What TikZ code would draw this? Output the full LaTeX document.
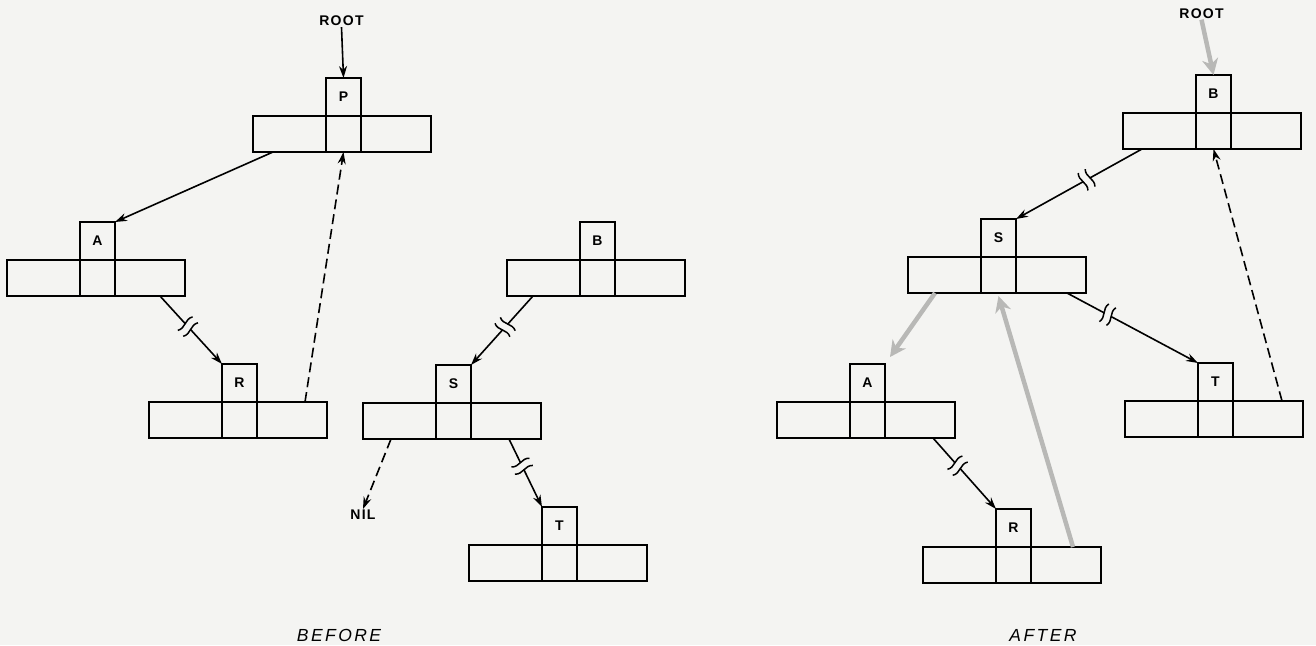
\documentclass[tikz,border=0pt]{standalone}
\usepackage{fontspec}
\setmainfont{Liberation Sans}
\newfontfamily\lblfont[LetterSpace=9]{Liberation Sans}
\newfontfamily\capfont[LetterSpace=14]{Liberation Sans}
\usetikzlibrary{arrows.meta,decorations.markings}
\definecolor{bg}{HTML}{F4F4F2}
\definecolor{arrowgray}{HTML}{B8B8B6}
\newcommand{\keyfont}{\bfseries\fontsize{14}{14}\selectfont}
\newcommand{\tnode}[4]{%
  \node[wide] (#1) at (#2,#3) {};
  \node[cell] (#1m) at ([xshift=73pt]#1.north west) {};
  \node[keybox] (#1k) at ([xshift=73pt]#1.north west) {#4};
}
\tikzset{
  wide/.style={draw, line width=1.7pt, outer sep=0pt, minimum width=178pt, minimum height=36pt, inner sep=0pt, anchor=north west},
  cell/.style={draw, line width=1.7pt, outer sep=0pt, minimum width=35pt, minimum height=36pt, inner sep=0pt, anchor=north west},
  keybox/.style={draw, line width=1.7pt, outer sep=0pt, minimum width=35pt, minimum height=38pt, inner sep=0pt, anchor=south west, font=\keyfont},
  lbl/.style={inner sep=1pt, font=\lblfont\bfseries\fontsize{14}{14}\selectfont},
  captxt/.style={inner sep=0pt, font=\capfont\itshape\fontsize{17.5}{17.5}\selectfont},
  ptr/.style={line width=1.6pt, -{Stealth[length=12pt,width=8pt]}},
  dptr/.style={ptr, dash pattern=on 10pt off 5pt},
  gptr/.style={line width=4.5pt, draw=arrowgray, -{Stealth[length=16pt,width=16pt,inset=5pt]}},
  brk/.style={postaction={decorate}, decoration={markings, mark=at position #1 with {
      \fill[bg] (-3.5pt,-10pt) rectangle (3.5pt,10pt);
      \draw[line width=1.5pt, -] (-4pt,-10pt) .. controls (0pt,-3pt) and (-8pt,3pt) .. (-4pt,10pt);
      \draw[line width=1.5pt, -] (4pt,-10pt) .. controls (8pt,-3pt) and (0pt,3pt) .. (4pt,10pt);
  }}},
}
\begin{document}
\begin{tikzpicture}[x=1pt,y=-1pt]
\fill[bg] (0,0) rectangle (1316,645);
\useasboundingbox (0,0) rectangle (1316,645);
% BEFORE
\tnode{P}{253}{116}{P}
\tnode{A}{7}{260}{A}
\tnode{R}{149}{402}{R}
\tnode{Bb}{507}{260}{B}
\tnode{Sb}{363}{403}{S}
\tnode{Tb}{469}{545}{T}
\node[lbl] (root1) at (341.5,21) {ROOT};
\node[lbl] (nil) at (363,515) {NIL};
\node[captxt] (before) at (339,635) {BEFORE};
\draw[ptr] (root1.south) -- (Pk.north);
\draw[ptr] ([xshift=20pt]P.south west) -- (Ak.north east);
\draw[ptr, brk=0.45] ([xshift=153pt]A.south west) -- (Rk.north west);
\draw[dptr] ([xshift=156pt]R.north west) -- (Pm.south);
\draw[ptr, brk=0.45] ([xshift=26pt]Bb.south west) -- (Sbk.north east);
\draw[dptr] ([xshift=28pt]Sb.south west) -- (nil.north);
\draw[ptr, brk=0.4] ([xshift=146pt]Sb.south west) -- (Tbk.north west);
% AFTER
\tnode{Ba}{1123}{113}{B}
\tnode{Sa}{908}{257}{S}
\tnode{Aa}{777}{402}{A}
\tnode{Ra}{923}{547}{R}
\tnode{Ta}{1125}{401}{T}
\node[lbl] (root2) at (1201.5,13.5) {ROOT};
\node[captxt] (after) at (1043,635) {AFTER};
\draw[gptr] (root2.south) -- (Bak.north);
\draw[ptr, brk=0.44] ([xshift=19pt]Ba.south west) -- (Sak.north east);
\draw[dptr] ([xshift=157pt]Ta.north west) -- (Bam.south);
\draw[ptr, brk=0.31] ([xshift=159pt]Sa.south west) -- (Tak.north west);
\draw[gptr] ([xshift=27pt]Sa.south west) -- ([xshift=5pt,yshift=7pt]Aak.north east);
\draw[gptr] ([xshift=150pt]Ra.north west) -- ([yshift=-3pt]Sam.south);
\draw[ptr, brk=0.39] ([xshift=156pt]Aa.south west) -- (Rak.north west);
\end{tikzpicture}
\end{document}
